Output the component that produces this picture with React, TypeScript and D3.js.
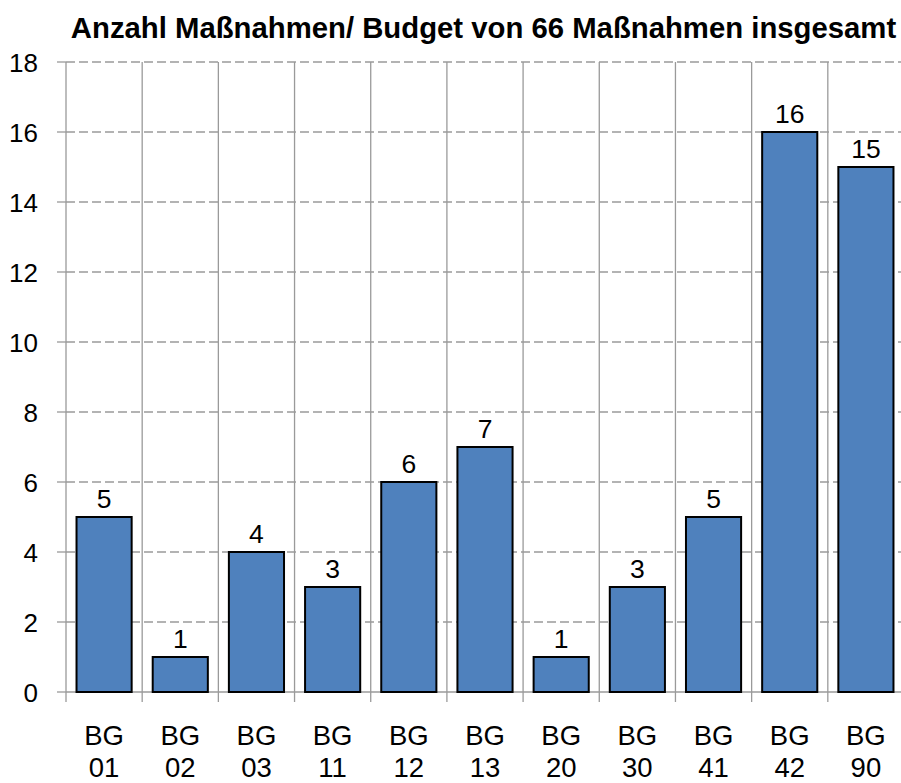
import React from "react";
import * as d3 from "d3";

const title = "Anzahl Maßnahmen/ Budget von 66 Maßnahmen insgesamt";
const categories = ["01", "02", "03", "11", "12", "13", "20", "30", "41", "42", "90"];
const values = [5, 1, 4, 3, 6, 7, 1, 3, 5, 16, 15];
const yTicks = [0, 2, 4, 6, 8, 10, 12, 14, 16, 18];

const width = 901;
const height = 783;
const margin = { top: 62, right: -3, bottom: 91, left: 66 };
const font = "'Liberation Sans', Arial, sans-serif";
const gridColor = "#9a9a9a";

export default function App() {
  const x = d3
    .scaleBand<string>()
    .domain(categories)
    .range([margin.left, width - margin.right])
    .padding(0);

  const y = d3
    .scaleLinear()
    .domain([0, 18])
    .range([height - margin.bottom, margin.top]);

  const bw = x.bandwidth() * 0.75;
  const x0 = margin.left;
  const x1 = width - margin.right;
  const y0 = y(0);

  return (
    <svg
      width={width}
      height={height}
      style={{ position: "absolute", left: 0, top: 0, background: "#fff" }}
    >
      <text
        x={(72 + 895) / 2}
        y={38}
        textAnchor="middle"
        fontFamily={font}
        fontWeight="bold"
        fontSize={29.3}
        fill="#000"
      >
        {title}
      </text>

      {/* horizontal grid */}
      {yTicks.map((t) => (
        <g key={`h-${t}`}>
          <line x1={57} x2={x0} y1={y(t)} y2={y(t)} stroke={gridColor} strokeWidth={1.3} />
          <line
            x1={x0}
            x2={x1}
            y1={y(t)}
            y2={y(t)}
            stroke={gridColor}
            strokeWidth={1.3}
            strokeDasharray={t === 0 ? undefined : "9,4"}
          />
          <text
            x={38}
            y={y(t) + 9.5}
            textAnchor="end"
            fontFamily={font}
            fontSize={26}
            fill="#000"
          >
            {t}
          </text>
        </g>
      ))}

      {/* vertical grid */}
      {categories.map((c) => (
        <line
          key={`v-${c}`}
          x1={x(c)!}
          x2={x(c)!}
          y1={margin.top}
          y2={y0 + 10}
          stroke={gridColor}
          strokeWidth={1.3}
        />
      ))}
      <line x1={x1} x2={x1} y1={margin.top} y2={y0 + 10} stroke={gridColor} strokeWidth={1.3} />

      {/* bars */}
      {categories.map((c, i) => {
        const cx = x(c)! + x.bandwidth() / 2;
        return (
          <g key={`b-${c}`}>
            <rect
              x={cx - bw / 2 + 1}
              y={y(values[i])}
              width={bw - 2}
              height={y0 - y(values[i])}
              fill="#4F81BD"
              stroke="#000"
              strokeWidth={2}
            />
            <text
              x={cx}
              y={y(values[i]) - 9}
              textAnchor="middle"
              fontFamily={font}
              fontSize={26.5}
              fill="#000"
            >
              {values[i]}
            </text>
            <text x={cx} y={745} textAnchor="middle" fontFamily={font} fontSize={27.5} fill="#000">
              BG
            </text>
            <text x={cx} y={777} textAnchor="middle" fontFamily={font} fontSize={27.5} fill="#000">
              {c}
            </text>
          </g>
        );
      })}
    </svg>
  );
}
